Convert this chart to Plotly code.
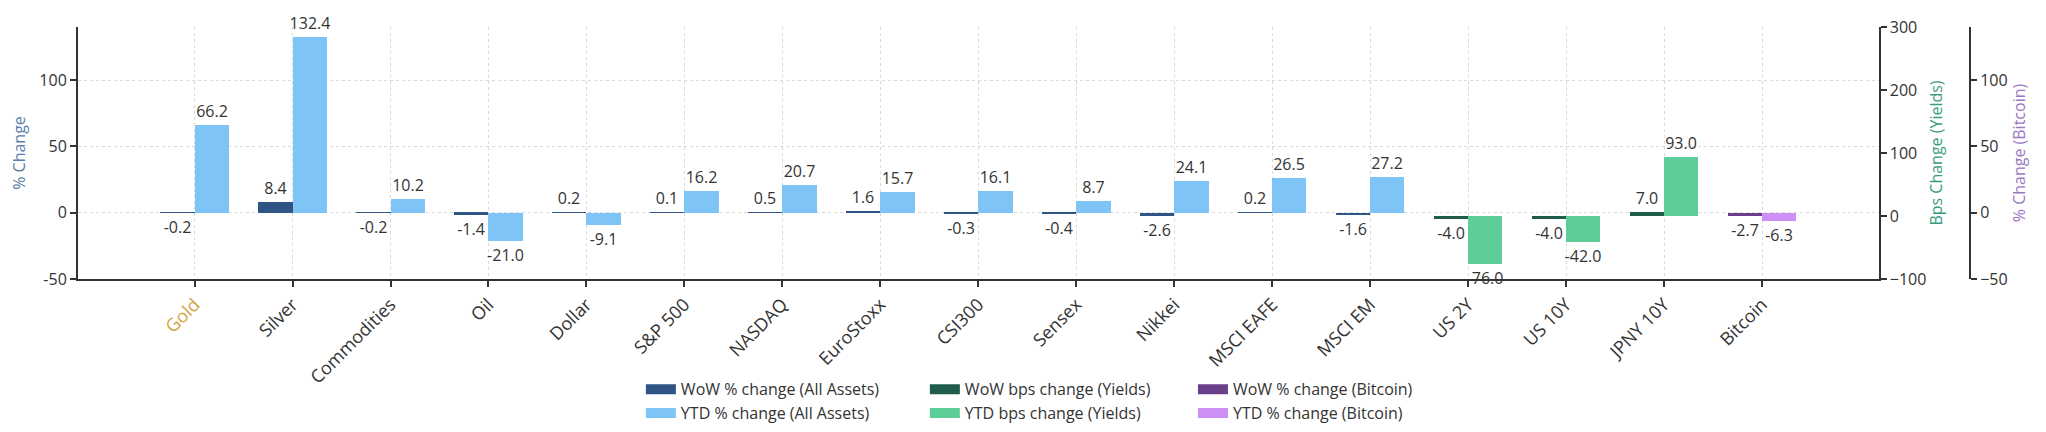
import plotly.graph_objects as go

categories = ["Gold", "Silver", "Commodities", "Oil", "Dollar", "S&P 500", "NASDAQ",
              "EuroStoxx", "CSI300", "Sensex", "Nikkei", "MSCI EAFE", "MSCI EM",
              "US 2Y", "US 10Y", "JPNY 10Y", "Bitcoin"]

asset_cats = categories[:13]
asset_wow = [-0.2, 8.4, -0.2, -1.4, 0.2, 0.1, 0.5, 1.6, -0.3, -0.4, -2.6, 0.2, -1.6]
asset_ytd = [66.2, 132.4, 10.2, -21.0, -9.1, 16.2, 20.7, 15.7, 16.1, 8.7, 24.1, 26.5, 27.2]

yield_cats = categories[13:16]
yield_wow = [-4.0, -4.0, 7.0]
yield_ytd = [-76.0, -42.0, 93.0]

btc_cats = categories[16:]
btc_wow = [-2.7]
btc_ytd = [-6.3]

left_ticks = [-50, 0, 50, 100]
left_ticktext = ["-50", "0", "50", "100"]

FONT = "Open Sans"
TXT = "#333333"
W = 0.35

def lbl(vals):
    return [f"{v:.1f}" for v in vals]

fig = go.Figure()

def add_bar(x, y, name, color, yaxis, offset, legend):
    # the bar itself (legend entry shown through a proxy with a wide swatch)
    fig.add_trace(go.Bar(
        x=x, y=y, name=name, marker=dict(color=color, line=dict(width=0)),
        width=W, offset=offset, yaxis=yaxis, showlegend=False, legendgroup=name,
        text=lbl(y), textposition="outside", constraintext="none",
        cliponaxis=False, textfont=dict(size=16, color=TXT, family=FONT),
        hoverinfo="x+y+name"))
    fig.add_trace(go.Scatter(
        x=[None], y=[None], name=name, mode="lines", yaxis=yaxis,
        line=dict(color=color, width=10), legend=legend, legendgroup=name,
        showlegend=True, hoverinfo="skip"))

add_bar(asset_cats, asset_wow, "WoW % change (All Assets)", "#2E5583", "y", -W, "legend")
add_bar(asset_cats, asset_ytd, "YTD % change (All Assets)", "#7EC4F7", "y", 0, "legend")
add_bar(yield_cats, yield_wow, "WoW bps change (Yields)", "#1F5C4B", "y2", -W, "legend2")
add_bar(yield_cats, yield_ytd, "YTD bps change (Yields)", "#5ECE98", "y2", 0, "legend2")
add_bar(btc_cats, btc_wow, "WoW % change (Bitcoin)", "#6A3F8A", "y3", -W, "legend3")
add_bar(btc_cats, btc_ytd, "YTD % change (Bitcoin)", "#CD8EF5", "y3", 0, "legend3")

ticktext = [f'<span style="color:#D2A443">{c}</span>' if c == "Gold" else c for c in categories]

grid = dict(showgrid=True, gridcolor="#d9d9d9", griddash="dot", gridwidth=1)
axline = dict(showline=True, linecolor="#333333", linewidth=2, ticks="outside",
              ticklen=6, tickwidth=2, tickcolor="#333333", automargin=False)

leg_common = dict(orientation="v", yanchor="top", y=-0.37, xanchor="left",
                  font=dict(size=16, color=TXT, family=FONT), bgcolor="rgba(0,0,0,0)",
                  tracegroupgap=0, itemwidth=30, groupclick="toggleitem")

# page body has an 8px margin, so the figure is sized to fit inside the window
fig.update_layout(
    width=2030, height=416,
    margin=dict(l=70, r=68, t=19, b=145, autoexpand=False),
    paper_bgcolor="white", plot_bgcolor="white",
    font=dict(family=FONT, size=16, color=TXT),
    bargap=0, showlegend=True,
    xaxis=dict(type="category", categoryorder="array", categoryarray=categories,
               range=[-1.19, len(categories) - 1 + 1.19], domain=[0, 0.9517],
               tickmode="array", tickvals=categories, ticktext=ticktext,
               tickangle=-45, tickfont=dict(size=18, color=TXT, family=FONT),
               zeroline=False, **grid, **axline),
    yaxis=dict(range=[-50, 140], tickmode="array", tickvals=left_ticks, ticktext=left_ticktext,
               title=dict(text="% Change", standoff=10,
                          font=dict(size=16, color="#5A80A8", family=FONT)),
               tickfont=dict(size=16, color=TXT), zeroline=False, **grid, **axline),
    yaxis2=dict(range=[-100, 300], dtick=100, overlaying="y", side="right", anchor="x",
                showgrid=False, zeroline=False,
                title=dict(text="Bps Change (Yields)", standoff=5,
                           font=dict(size=16, color="#3A9C7E", family=FONT)),
                tickfont=dict(size=16, color=TXT), **axline),
    yaxis3=dict(range=[-50, 140], dtick=50, overlaying="y", side="right", anchor="free",
                position=1.0, showgrid=False, zeroline=False,
                title=dict(text="% Change (Bitcoin)", standoff=5,
                           font=dict(size=16, color="#9A78C2", family=FONT)),
                tickfont=dict(size=16, color=TXT), **axline),
    legend=dict(x=0.2975, **leg_common),
    legend2=dict(x=0.4476, **leg_common),
    legend3=dict(x=0.5893, **leg_common),
)

fig.write_html("out.html")
